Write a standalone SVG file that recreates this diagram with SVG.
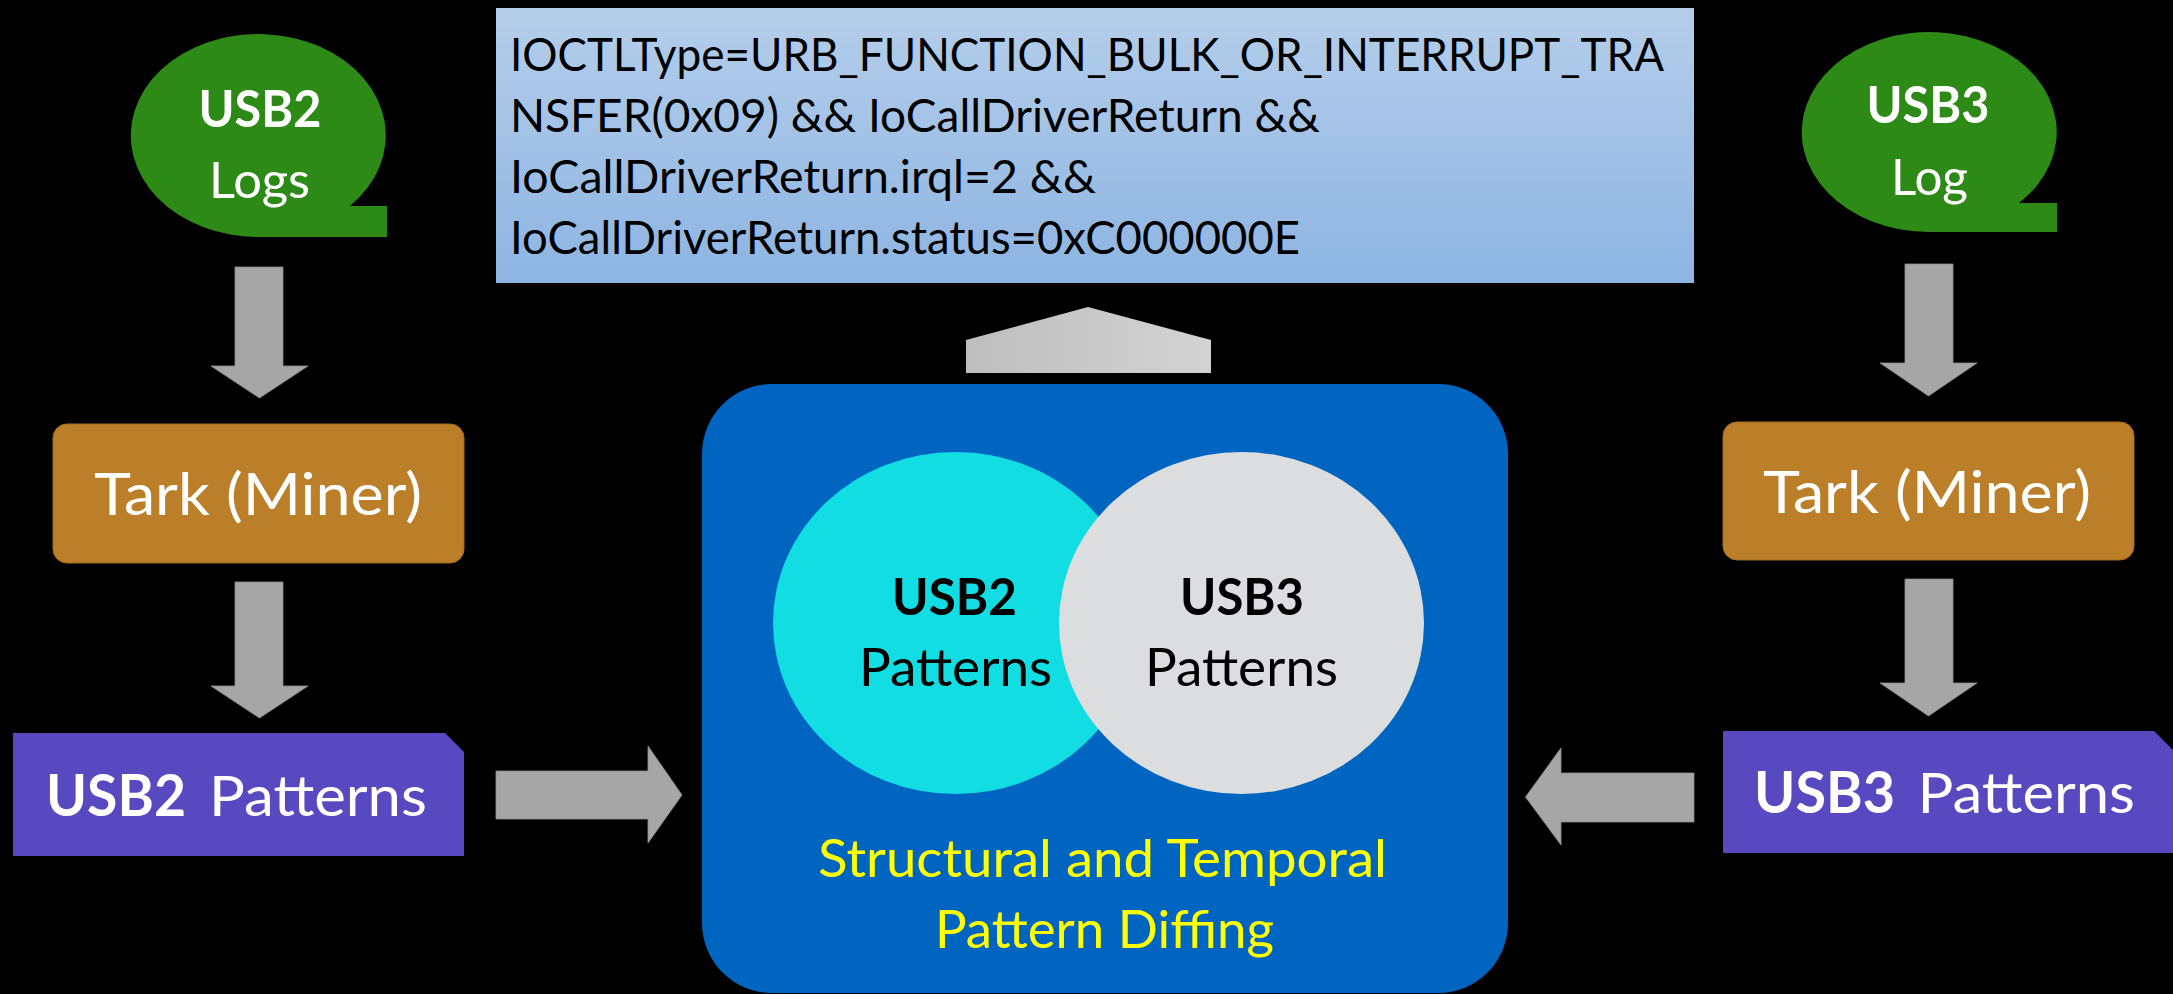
<svg xmlns="http://www.w3.org/2000/svg" width="2173" height="994" viewBox="0 0 2173 994">
  <defs>
    <linearGradient id="queryFill" x1="0" y1="0" x2="0" y2="1">
      <stop offset="0" stop-color="#B5CEEA"/>
      <stop offset="1" stop-color="#8DB4E2"/>
    </linearGradient>
    <linearGradient id="upArrowFill" x1="0" y1="0" x2="1" y2="0">
      <stop offset="0" stop-color="#BEBEBE"/>
      <stop offset="1" stop-color="#D3D3D3"/>
    </linearGradient>
  </defs>
  <style>
    text { font-family: Lato, "Open Sans", "Liberation Sans", sans-serif; }
    .bubble { fill: #2E8A17; }
    .miner { fill: #BB7F29; stroke: #A36C1E; stroke-width: 1; }
    .patterns { fill: #5849C0; }
    .flow { fill: #A6A6A6; stroke: #8F8F8F; stroke-width: 0.8; }
    .white { fill: #FFFFFF; }
    .black { fill: #000000; }
    .b { font-weight: 700; }
    .lbl { text-anchor: middle; }
  </style>

  <rect x="0" y="0" width="2173" height="994" fill="#000000"/>

  <!-- query result box -->
  <g id="query">
    <rect x="496" y="8" width="1198" height="275" fill="url(#queryFill)"/>
    <g font-size="46" fill="#000000">
      <text x="510" y="71" textLength="1154" lengthAdjust="spacingAndGlyphs">IOCTLType=URB_FUNCTION_BULK_OR_INTERRUPT_TRA</text>
      <text x="510" y="132" textLength="810" lengthAdjust="spacingAndGlyphs">NSFER(0x09) &amp;&amp; IoCallDriverReturn &amp;&amp;</text>
      <text x="510" y="193" textLength="586" lengthAdjust="spacingAndGlyphs">IoCallDriverReturn.irql=2 &amp;&amp;</text>
      <text x="510" y="254" textLength="790" lengthAdjust="spacingAndGlyphs">IoCallDriverReturn.status=0xC000000E</text>
    </g>
  </g>

  <!-- USB2 column -->
  <g id="usb2-logs">
    <path class="bubble" d="M259.5,237 A127.5,101.5 0 1 1 350,206 L387,206 L387,237 Z"/>
    <text class="white b lbl" x="260" y="127" font-size="51" textLength="123" lengthAdjust="spacingAndGlyphs">USB2</text>
    <text class="white lbl" x="259.5" y="198" font-size="51" textLength="101" lengthAdjust="spacingAndGlyphs">Logs</text>
  </g>
  <g id="usb2-miner">
    <rect class="miner" x="53" y="424" width="411" height="139" rx="14"/>
    <text class="white lbl" x="258" y="515" font-size="58" textLength="328" lengthAdjust="spacingAndGlyphs">Tark (Miner)</text>
  </g>
  <g id="usb2-patterns">
    <path class="patterns" d="M13,733 L445,733 L464,752 L464,856 L13,856 Z"/>
    <text class="white" y="816" font-size="57"><tspan class="b" x="46" textLength="140" lengthAdjust="spacingAndGlyphs">USB2</tspan><tspan x="209" textLength="218" lengthAdjust="spacingAndGlyphs">Patterns</tspan></text>
  </g>

  <!-- USB3 column -->
  <g id="usb3-log">
    <path class="bubble" d="M1928.5,232 A127.5,100 0 1 1 2019,203 L2057,203 L2057,232 Z"/>
    <text class="white b lbl" x="1928" y="123" font-size="51" textLength="123" lengthAdjust="spacingAndGlyphs">USB3</text>
    <text class="white lbl" x="1929.5" y="195" font-size="51" textLength="77" lengthAdjust="spacingAndGlyphs">Log</text>
  </g>
  <g id="usb3-miner">
    <rect class="miner" x="1723" y="422" width="411" height="138" rx="14"/>
    <text class="white lbl" x="1927" y="513" font-size="58" textLength="328" lengthAdjust="spacingAndGlyphs">Tark (Miner)</text>
  </g>
  <g id="usb3-patterns">
    <path class="patterns" d="M1723,731 L2154,731 L2173,750 L2173,853 L1723,853 Z"/>
    <text class="white" y="813" font-size="57"><tspan class="b" x="1754" textLength="141" lengthAdjust="spacingAndGlyphs">USB3</tspan><tspan x="1917.5" textLength="217.5" lengthAdjust="spacingAndGlyphs">Patterns</tspan></text>
  </g>

  <!-- diffing engine with the two pattern sets -->
  <g id="diffing">
    <rect x="702" y="384" width="806" height="609" rx="70" fill="#0065C0"/>
    <ellipse cx="955.5" cy="623" rx="182.5" ry="171" fill="#11DDE2"/>
    <ellipse cx="1241.5" cy="623" rx="182.5" ry="171" fill="#DCDDDF"/>
    <text class="black b lbl" x="954.5" y="615" font-size="52" textLength="125" lengthAdjust="spacingAndGlyphs">USB2</text>
    <text class="black lbl" x="955.5" y="686" font-size="52" textLength="193" lengthAdjust="spacingAndGlyphs">Patterns</text>
    <text class="black b lbl" x="1242" y="615" font-size="52" textLength="124" lengthAdjust="spacingAndGlyphs">USB3</text>
    <text class="black lbl" x="1241.5" y="686" font-size="52" textLength="193" lengthAdjust="spacingAndGlyphs">Patterns</text>
    <text class="lbl" x="1102.5" y="877" font-size="53" fill="#FFFF00" textLength="569" lengthAdjust="spacingAndGlyphs">Structural and Temporal</text>
    <text class="lbl" x="1104.5" y="948" font-size="53" fill="#FFFF00" textLength="339" lengthAdjust="spacingAndGlyphs">Pattern Diffing</text>
  </g>

  <!-- block arrows between stages -->
  <g id="connectors">
    <polygon class="flow" points="235,267 283,267 283,366 308,366 259.5,398 211,366 235,366"/>
    <polygon class="flow" points="235,582 283,582 283,686 308,686 259.5,718 211,686 235,686"/>
    <polygon class="flow" points="1905,264 1953,264 1953,363 1977,363 1928.5,396 1880,363 1905,363"/>
    <polygon class="flow" points="1905,579 1953,579 1953,683 1977,683 1928.5,716 1880,683 1905,683"/>
    <polygon class="flow" points="496,771 648,771 648,746 682,795 648,843 648,819 496,819"/>
    <polygon class="flow" points="1694,773 1561,773 1561,748 1525.5,797 1561,845 1561,822 1694,822"/>
    <polygon points="966,373 966,340 1088,307 1211,340 1211,373" fill="url(#upArrowFill)"/>
  </g>
</svg>
